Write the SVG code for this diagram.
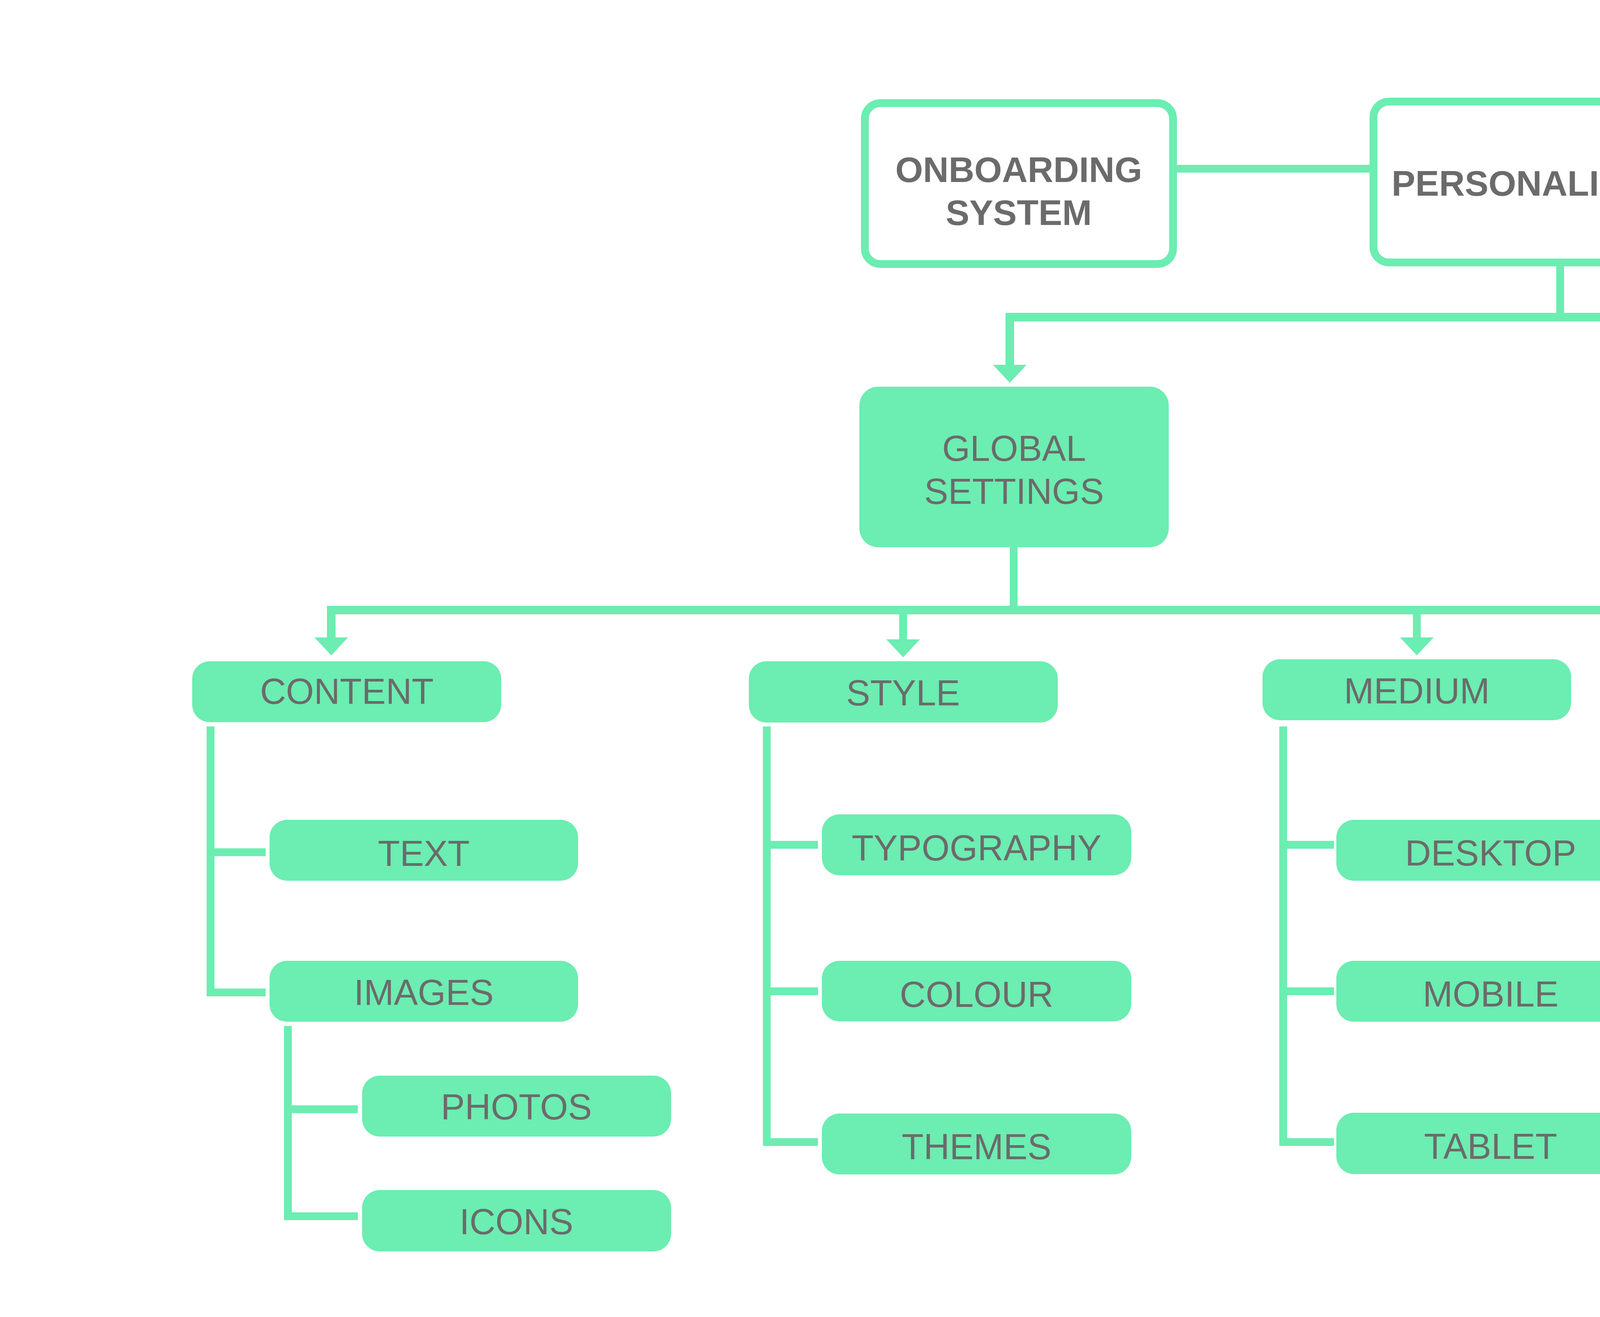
<svg xmlns="http://www.w3.org/2000/svg" xmlns:xlink="http://www.w3.org/1999/xlink" width="8000" height="3372" viewBox="0 0 8000 3372">
<style>
.bg{fill:#ffffff}
.hdr{fill:#ffffff;stroke:#6CEDB1;stroke-width:20}
.box{fill:#6CEDB1}
.ln{fill:none;stroke:#6CEDB1;stroke-width:20;stroke-linejoin:miter;stroke-linecap:butt}
.bar{fill:none;stroke:#6CEDB1;stroke-width:22;stroke-linejoin:miter;stroke-linecap:butt}
.ah{fill:#6CEDB1}
.tb{font-family:"Liberation Sans",Arial,Helvetica,sans-serif;font-weight:bold;font-size:91px;fill:#6B6B6B;text-anchor:middle}
.t{font-family:"Liberation Sans",Arial,Helvetica,sans-serif;font-size:92px;fill:#6B6B6B;text-anchor:middle}
</style>
<defs>
<path id="arrow" class="ah" d="M -43 0 L 43 0 L 0 46 Z"/>
</defs>
<rect class="bg" x="0" y="0" width="8000" height="3372"/>

<g id="connectors">
<line class="ln" x1="3013" y1="432" x2="3506" y2="432"/>
<line class="ln" x1="3994" y1="682" x2="3994" y2="812"/>
<path class="bar" d="M 2585 935 V 812 H 6767 V 935"/>
<line class="ln" x1="5357" y1="812" x2="5357" y2="919"/>
<use href="#arrow" x="2585" y="934"/>
<use href="#arrow" x="5357" y="918"/>
<use href="#arrow" x="6767" y="930"/>

<line class="ln" x1="2595" y1="1401" x2="2595" y2="1562"/>
<path class="bar" d="M 848 1633 V 1562 H 4782 V 1633"/>
<line class="ln" x1="2312" y1="1562" x2="2312" y2="1638"/>
<line class="ln" x1="3627" y1="1562" x2="3627" y2="1633"/>
<use href="#arrow" x="848" y="1632"/>
<use href="#arrow" x="2312" y="1637"/>
<use href="#arrow" x="3627" y="1632"/>
<use href="#arrow" x="4782" y="1634"/>

<path class="ln" d="M 539 1860 V 2541 H 680"/>
<path class="ln" d="M 539 2182 H 680"/>
<path class="ln" d="M 737 2627 V 3114 H 916"/>
<path class="ln" d="M 737 2840 H 916"/>

<path class="ln" d="M 1963 1860 V 2924 H 2094"/>
<path class="ln" d="M 1963 2163 H 2094"/>
<path class="ln" d="M 1963 2538 H 2094"/>

<path class="ln" d="M 3285 1860 V 2924 H 3415"/>
<path class="ln" d="M 3285 2163 H 3415"/>
<path class="ln" d="M 3285 2538 H 3415"/>

<path class="ln" d="M 4495 1854 V 2918 H 4625"/>
<path class="ln" d="M 4495 2157 H 4625"/>
<path class="ln" d="M 4495 2532 H 4625"/>
</g>

<g id="onboarding">
<rect class="hdr" x="2214" y="264" width="789" height="412" rx="40"/>
<text class="tb" x="2608" y="466">ONBOARDING</text>
<text class="tb" x="2608" y="576">SYSTEM</text>
</g>
<g id="personalization">
<rect class="hdr" x="3516" y="260" width="956" height="412" rx="40"/>
<text class="tb" x="3994" y="501">PERSONALIZATION</text>
</g>

<g id="global-settings">
<rect class="box" x="2200" y="990" width="792" height="411" rx="48"/>
<text class="t" x="2596" y="1180">GLOBAL</text>
<text class="t" x="2596" y="1290">SETTINGS</text>
</g>
<g id="page-wise-settings">
<rect class="box" x="4963" y="973" width="790" height="412" rx="48"/>
<text class="t" x="5358" y="1164">PAGE-WISE</text>
<text class="t" x="5358" y="1274">SETTINGS</text>
</g>
<g id="section-wise-settings">
<rect class="box" x="6371" y="973" width="790" height="412" rx="48"/>
<text class="t" x="6766" y="1170">SECTION-WISE</text>
<text class="t" x="6766" y="1281">SETTINGS</text>
</g>

<g id="content">
<rect class="box" x="492" y="1693" width="791" height="156" rx="45"/>
<text class="t" x="888" y="1802">CONTENT</text>
</g>
<g id="style">
<rect class="box" x="1917" y="1693" width="791" height="157" rx="45"/>
<text class="t" x="2312" y="1806">STYLE</text>
</g>
<g id="medium">
<rect class="box" x="3232" y="1688" width="790" height="156" rx="45"/>
<text class="t" x="3627" y="1801">MEDIUM</text>
</g>
<g id="actions">
<rect class="box" x="4432" y="1688" width="791" height="156" rx="45"/>
<text class="t" x="4828" y="1801">ACTIONS</text>
</g>

<g id="text">
<rect class="box" x="690" y="2099" width="790" height="156" rx="45"/>
<text class="t" x="1085" y="2217">TEXT</text>
</g>
<g id="images">
<rect class="box" x="690" y="2460" width="790" height="156" rx="45"/>
<text class="t" x="1085" y="2573">IMAGES</text>
</g>
<g id="photos">
<rect class="box" x="927" y="2754" width="791" height="156" rx="45"/>
<text class="t" x="1322" y="2866">PHOTOS</text>
</g>
<g id="icons">
<rect class="box" x="927" y="3047" width="791" height="157" rx="45"/>
<text class="t" x="1322" y="3160">ICONS</text>
</g>

<g id="typography">
<rect class="box" x="2104" y="2085" width="792" height="156" rx="45"/>
<text class="t" x="2500" y="2203">TYPOGRAPHY</text>
</g>
<g id="colour">
<rect class="box" x="2104" y="2460" width="792" height="155" rx="45"/>
<text class="t" x="2500" y="2578">COLOUR</text>
</g>
<g id="themes">
<rect class="box" x="2104" y="2851" width="792" height="156" rx="45"/>
<text class="t" x="2500" y="2968">THEMES</text>
</g>

<g id="desktop">
<rect class="box" x="3421" y="2099" width="791" height="156" rx="45"/>
<text class="t" x="3816" y="2216">DESKTOP</text>
</g>
<g id="mobile">
<rect class="box" x="3421" y="2460" width="791" height="156" rx="45"/>
<text class="t" x="3816" y="2577">MOBILE</text>
</g>
<g id="tablet">
<rect class="box" x="3421" y="2849" width="791" height="157" rx="45"/>
<text class="t" x="3816" y="2967">TABLET</text>
</g>

<g id="add-to-cart">
<rect class="box" x="4637" y="2099" width="792" height="157" rx="45"/>
<text class="t" x="5033" y="2217">ADD TO CART</text>
</g>
<g id="add-to-list">
<rect class="box" x="4637" y="2460" width="792" height="156" rx="45"/>
<text class="t" x="5033" y="2578">ADD TO LIST</text>
</g>
<g id="share">
<rect class="box" x="4637" y="2842" width="792" height="156" rx="45"/>
<text class="t" x="5033" y="2961">SHARE</text>
</g>
</svg>
